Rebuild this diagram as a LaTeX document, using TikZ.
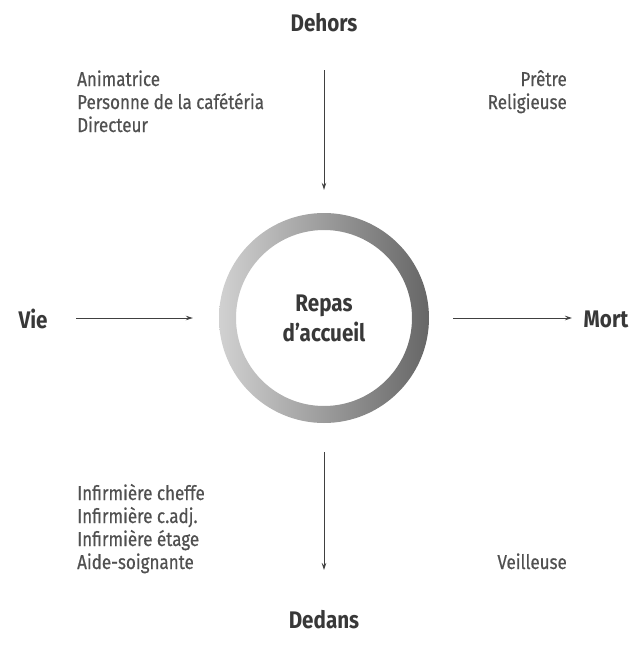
\documentclass[tikz,border=0pt]{standalone}
\usepackage{fontspec}
\setmainfont{Fira Sans}[FakeStretch=0.86]
\newfontfamily\listfont{Fira Sans}[FakeStretch=0.85,FakeBold=0.6]
\usetikzlibrary{arrows.meta}
\definecolor{txtgray}{HTML}{505050}
\definecolor{lblgray}{HTML}{383838}
\tikzset{myarrow/.style={draw=black!75,line width=0.8pt,-{Stealth[length=7pt,width=4.5pt]}}}
\tikzset{mylist/.style={text=txtgray,font=\listfont\fontsize{20}{23}\selectfont,inner sep=0pt}}
\tikzset{mylabel/.style={text=lblgray,font=\fontsize{24}{30}\selectfont\bfseries,inner sep=0pt}}

\begin{document}
\begin{tikzpicture}[x=1pt,y=-1pt]
	\useasboundingbox (0,0) rectangle (641,656);

	\coordinate (dehors0) at (324,70);
	\coordinate (dedans0) at (324,570);
	\coordinate (vie0) at (76,318);
	\coordinate (mort0) at (572,318);

	% ring
	\node[mylabel,circle,minimum size=210pt,align=center] (ring) at (324,318) {Repas\\d’accueil};
	\shade[even odd rule,left color=black!18,right color=black!60]
		(ring.center) circle (105pt) (ring.center) circle (88pt);

	\node[mylabel] (dehors) at (324,23) {Dehors};
	\node[mylabel] (dedans) at (324,620) {Dedans};
	\node[mylabel] (vie) at (33,319) {Vie};
	\node[mylabel] (mort) at (606,319) {Mort};

	% lists (base = last line)
	\node[mylist,align=left,anchor=base west] (dehorsvie) at (77,132) {Animatrice\\Personne de la cafétéria\\Directeur};
	\node[mylist,align=right,anchor=base east] (dehorsmort) at (567,109) {Prêtre\\Religieuse};
	\node[mylist,align=left,anchor=base west] (dedansvie) at (77,569) {Infirmière cheffe\\Infirmière c.adj.\\Infirmière étage\\Aide-soignante};
	\node[mylist,anchor=base east] (dedansmort) at (567,569) {Veilleuse};

	\draw[myarrow,shorten >=23pt] (dehors0) -- (ring.north);
	\draw[myarrow,shorten <=29pt] (ring.south) -- (dedans0);
	\draw[myarrow,shorten >=26pt] (vie0) -- (ring.west);
	\draw[myarrow,shorten <=24pt] (ring.east) -- (mort0);

\end{tikzpicture}
\end{document}
